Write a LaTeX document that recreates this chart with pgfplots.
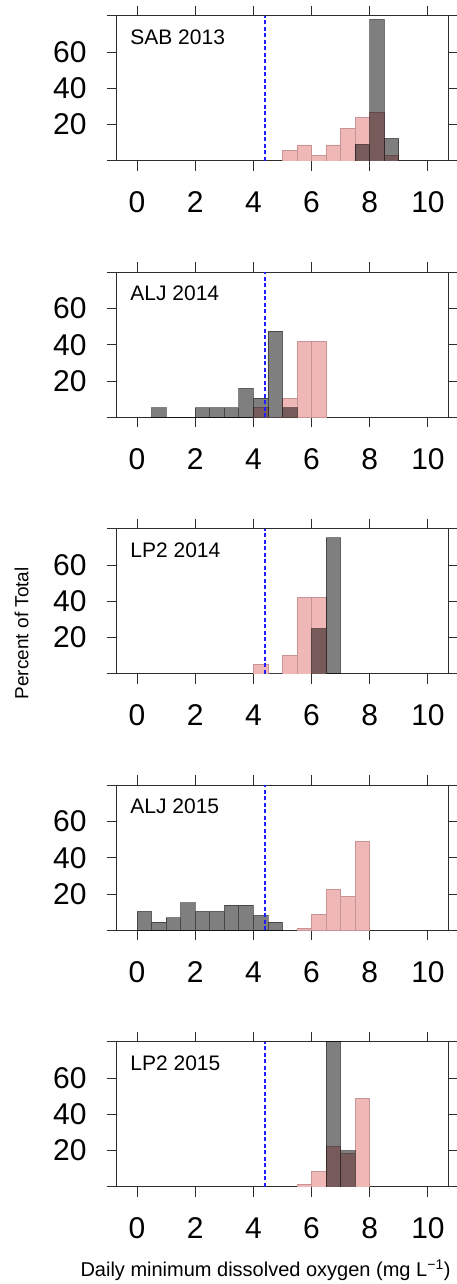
\documentclass[border=0pt]{standalone}
\usepackage{fontspec}
\setmainfont{Liberation Sans}
\usepackage{pgfplots}
\pgfplotsset{compat=1.18}
\definecolor{pinkfill}{RGB}{240,183,183}
\definecolor{pinkdraw}{RGB}{198,148,148}
\definecolor{axcol}{RGB}{45,45,45}
\definecolor{dolcol}{RGB}{30,30,255}
\pgfplotsset{
  panel/.style={
    width=331.6pt, height=145.3pt, scale only axis,
    anchor=north west,
    xmin=-0.7, xmax=10.7, ymin=0, ymax=80,
    xtick={0,2,4,6,8,10}, ytick={0,20,40,60,80}, yticklabels={,20,40,60,},
    xtick pos=both, ytick pos=both,
    tick align=outside, major tick length=10pt,
    axis line style={axcol, line width=1pt},
    tick style={axcol, line width=1pt},
    /pgf/number format/assume math mode=true,
    tick label style={font=\fontsize{30}{30}\selectfont, inner sep=0pt},
    xticklabel style={yshift=-20.7pt},
    yticklabel style={xshift=-20pt},
  },
  pinkbar/.style={ybar interval, fill=pinkfill, draw=pinkdraw, line width=0.9pt},
  graybar/.style={ybar interval, fill=black, fill opacity=0.5, draw=black, draw opacity=0.45, line width=0.9pt},
  doline/.style={draw=dolcol, color=dolcol, line width=1.3pt, dash pattern=on 4pt off 2.5pt},
}
\tikzset{lab/.style={anchor=north west, inner sep=0pt, xshift=13.5pt, yshift=-13.6pt, font=\fontsize{21}{21}\selectfont}}
\begin{document}
\begin{tikzpicture}
\useasboundingbox (0,0) rectangle (456pt,1284pt);
% SAB 2013
\begin{axis}[panel, at={(116.7pt,1268.3pt)}]
\addplot[pinkbar] coordinates {(5.0,5.9) (5.5,8.8) (6.0,2.9) (6.5,8.8) (7.0,18.1) (7.5,24.2) (8.0,26.9) (8.5,2.9) (9.0,0)};
\addplot[graybar] coordinates {(7.5,9.2) (8.0,78.0) (8.5,12.5) (9.0,0)};
\addplot[doline] coordinates {(4.4,0) (4.4,80)};
\node[lab] at (rel axis cs:0,1) {SAB 2013};
\end{axis}
% ALJ 2014
\begin{axis}[panel, at={(116.7pt,1011.8pt)}]
\addplot[pinkbar] coordinates {(4.0,5.3) (4.5,0) (5.0,10.6) (5.5,42.1) (6.0,42.1) (6.5,0)};
\addplot[graybar] coordinates {(0.5,5.3) (1.0,0) (1.5,0) (2.0,5.3) (2.5,5.3) (3.0,5.3) (3.5,16.0) (4.0,10.6) (4.5,47.5) (5.0,5.3) (5.5,0)};
\addplot[doline] coordinates {(4.4,0) (4.4,80)};
\node[lab] at (rel axis cs:0,1) {ALJ 2014};
\end{axis}
% LP2 2014
\begin{axis}[panel, at={(116.7pt,755.3pt)}]
\addplot[pinkbar] coordinates {(4.0,5.1) (4.5,0) (5.0,10.3) (5.5,42.0) (6.0,42.0) (6.5,0)};
\addplot[graybar] coordinates {(6.0,25.0) (6.5,75.0) (7.0,0)};
\addplot[doline] coordinates {(4.4,0) (4.4,80)};
\node[lab] at (rel axis cs:0,1) {LP2 2014};
\end{axis}
% ALJ 2015
\begin{axis}[panel, at={(116.7pt,498.8pt)}]
\addplot[pinkbar] coordinates {(5.5,1.1) (6.0,8.6) (6.5,22.6) (7.0,18.7) (7.5,49.0) (8.0,0)};
\addplot[graybar] coordinates {(0.0,10.5) (0.5,4.6) (1.0,7.0) (1.5,15.2) (2.0,10.5) (2.5,10.5) (3.0,13.9) (3.5,13.9) (4.0,8.3) (4.5,4.6) (5.0,0)};
\addplot[doline] coordinates {(4.4,0) (4.4,80)};
\node[lab] at (rel axis cs:0,1) {ALJ 2015};
\end{axis}
% LP2 2015
\begin{axis}[panel, at={(116.7pt,242.3pt)}]
\addplot[pinkbar] coordinates {(5.5,1.3) (6.0,8.6) (6.5,22.4) (7.0,18.7) (7.5,48.8) (8.0,0)};
\addplot[graybar] coordinates {(6.5,80.0) (7.0,20.0) (7.5,0)};
\addplot[doline] coordinates {(4.4,0) (4.4,80)};
\node[lab] at (rel axis cs:0,1) {LP2 2015};
\end{axis}
\node[rotate=90, anchor=base, inner sep=0pt, font=\fontsize{19}{19}\selectfont] at (28.3pt,650.7pt) {Percent of Total};
\node[anchor=base, inner sep=0pt, font=\fontsize{20}{20}\selectfont] at (265.5pt,7.3pt) {Daily minimum dissolved oxygen (mg L\textsuperscript{−1})};
\end{tikzpicture}
\end{document}
